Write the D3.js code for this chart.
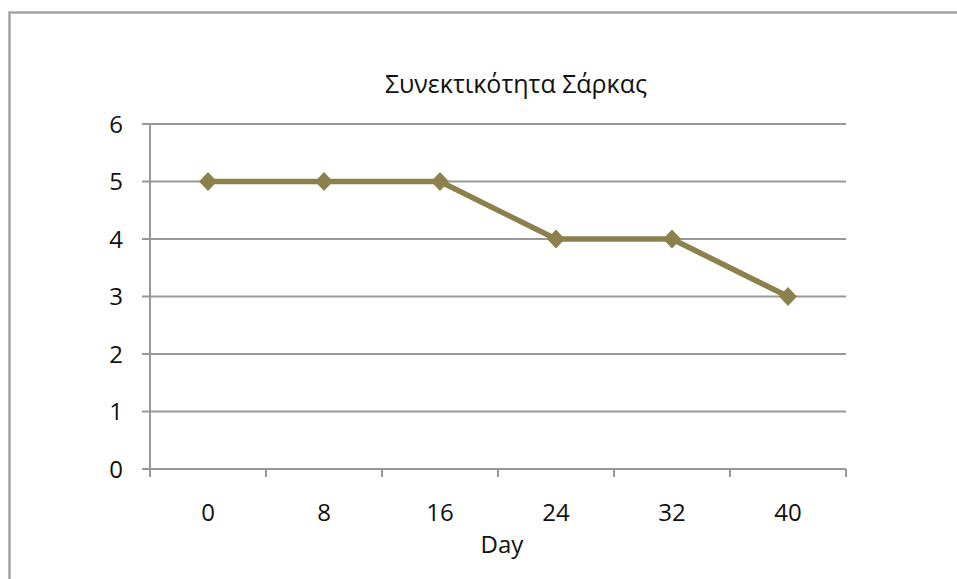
<!DOCTYPE html>
<html>
<head>
<meta charset="utf-8">
<script src="https://cdn.jsdelivr.net/npm/d3@7"></script>
<style>
  html, body { margin: 0; padding: 0; background: #fff; }
  svg { display: block; }
  text { font-family: "Open Sans", "Noto Sans", sans-serif; fill: #111; }
</style>
</head>
<body>
<script>
// Chart content
const titleText = "Συνεκτικότητα Σάρκας";
const xAxisTitle = "Day";
const days = ["0", "8", "16", "24", "32", "40"];
const firmness = [5, 5, 5, 4, 4, 3];
const yTickValues = [0, 1, 2, 3, 4, 5, 6];

const W = 957, H = 579;
const plot = { left: 150, right: 846, top: 124, bottom: 469 };
const gridColor = "#989898";
const lineColor = "#8c804c";

const svg = d3.select("body").append("svg")
  .attr("width", W).attr("height", H);

// Outer chart frame
svg.append("rect")
  .attr("x", 9.5).attr("y", 12.5)
  .attr("width", 1000).attr("height", 700)
  .attr("fill", "none")
  .attr("stroke", "#a3a3a3")
  .attr("stroke-width", 2.5);

const x = d3.scaleBand().domain(days).range([plot.left, plot.right]).padding(0);
const y = d3.scaleLinear().domain([0, 6]).range([plot.bottom, plot.top]);

// Horizontal gridlines (extend left as tick marks)
svg.append("g").selectAll("line").data(yTickValues).join("line")
  .attr("x1", plot.left - 8).attr("x2", plot.right)
  .attr("y1", d => y(d)).attr("y2", d => y(d))
  .attr("stroke", gridColor).attr("stroke-width", 2);

// Y axis line
svg.append("line")
  .attr("x1", plot.left).attr("x2", plot.left)
  .attr("y1", y(6)).attr("y2", y(0) + 8)
  .attr("stroke", gridColor).attr("stroke-width", 2);

// Y tick labels
svg.append("g").selectAll("text").data(yTickValues).join("text")
  .attr("x", plot.left - 27).attr("y", d => y(d) - 1)
  .attr("text-anchor", "end")
  .attr("dominant-baseline", "central")
  .style("font-size", "24px")
  .text(d => d);

// X tick marks at category boundaries
const boundaries = days.map(d => x(d)).concat([x(days[days.length - 1]) + x.bandwidth()]);
svg.append("g").selectAll("line").data(boundaries).join("line")
  .attr("x1", d => d).attr("x2", d => d)
  .attr("y1", y(0)).attr("y2", y(0) + 8)
  .attr("stroke", gridColor).attr("stroke-width", 2);

// X tick labels
svg.append("g").selectAll("text").data(days).join("text")
  .attr("x", d => x(d) + x.bandwidth() / 2)
  .attr("y", 511)
  .attr("text-anchor", "middle")
  .attr("dominant-baseline", "central")
  .style("font-size", "24px")
  .text(d => d);

// Axis title
svg.append("text")
  .attr("x", 502).attr("y", 553)
  .attr("text-anchor", "middle")
  .style("font-size", "24px")
  .text(xAxisTitle);

// Chart title
svg.append("text")
  .attr("x", 516).attr("y", 93)
  .attr("text-anchor", "middle")
  .style("font-size", "25px")
  .text(titleText);

// Series line
const pts = days.map((d, i) => ({ day: d, v: firmness[i] }));
svg.append("path")
  .datum(pts)
  .attr("fill", "none")
  .attr("stroke", lineColor)
  .attr("stroke-width", 5.5)
  .attr("stroke-linejoin", "round")
  .attr("d", d3.line().x(p => x(p.day) + x.bandwidth() / 2).y(p => y(p.v)));

// Diamond markers
svg.append("g").selectAll("path").data(pts).join("path")
  .attr("transform", p => `translate(${x(p.day) + x.bandwidth() / 2},${y(p.v)})`)
  .attr("d", "M0,-9.5L9,0L0,9.5L-9,0Z")
  .attr("fill", lineColor);
</script>
</body>
</html>
